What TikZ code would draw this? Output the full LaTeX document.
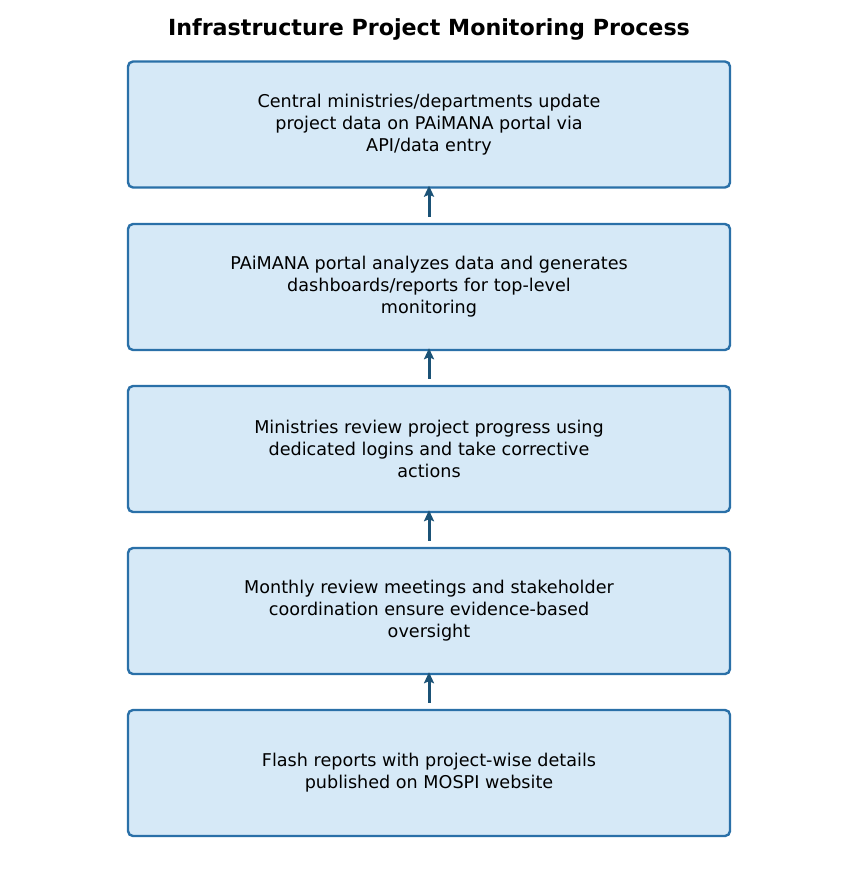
\documentclass[tikz,border=0pt]{standalone}
\usepackage{fontspec}
\setmainfont{DejaVu Sans}
\usetikzlibrary{arrows.meta}
\definecolor{boxfill}{HTML}{D6E9F7}
\definecolor{boxline}{HTML}{2A70A8}
\definecolor{arrowcol}{HTML}{1B5276}

\begin{document}
\begin{tikzpicture}[x=1pt,y=-1pt,
  stepbox/.style={draw=boxline,fill=boxfill,line width=2.4pt,rounded corners=5pt,
    minimum width=602pt,minimum height=126pt,align=center,
    font=\fontsize{17.6}{22}\selectfont},
  uparrow/.style={-{Stealth[length=11pt,width=10pt,inset=2pt]},draw=arrowcol,line width=3pt}]
\useasboundingbox (0,0) rectangle (858,877);
% Title
\node[font=\bfseries\fontsize{22.2}{26}\selectfont] (title) at (429,29) {Infrastructure Project Monitoring Process};
% Boxes
\node[stepbox] (update) at (429,124.5) {Central ministries/departments update\\project data on PAiMANA portal via\\API/data entry};
\node[stepbox] (analyze) at (429,287) {PAiMANA portal analyzes data and generates\\dashboards/reports for top-level\\monitoring};
\node[stepbox] (review) at (429,449) {Ministries review project progress using\\dedicated logins and take corrective\\actions};
\node[stepbox] (meet) at (429,611) {Monthly review meetings and stakeholder\\coordination ensure evidence-based\\oversight};
\node[stepbox] (flash) at (429,773) {Flash reports with project-wise details\\published on MOSPI website};
% Arrows
\draw[uparrow] ([yshift=6pt]analyze.north) -- ([yshift=3pt]update.south);
\draw[uparrow] ([yshift=6pt]review.north) -- ([yshift=3pt]analyze.south);
\draw[uparrow] ([yshift=6pt]meet.north) -- ([yshift=3pt]review.south);
\draw[uparrow] ([yshift=6pt]flash.north) -- ([yshift=3pt]meet.south);
\end{tikzpicture}
\end{document}
